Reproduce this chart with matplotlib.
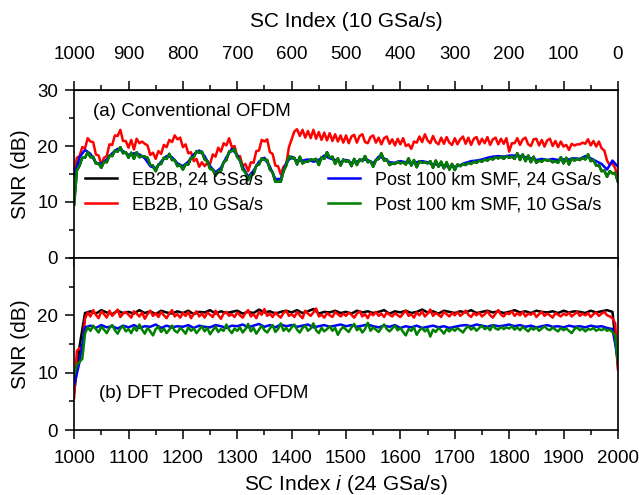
import matplotlib
matplotlib.use("Agg")
import matplotlib.pyplot as plt
import numpy as np
from matplotlib.ticker import MultipleLocator

plt.rcParams['font.family'] = ['Liberation Sans', 'DejaVu Sans']
plt.rcParams['mathtext.fontset'] = 'custom'
plt.rcParams['mathtext.it'] = 'Liberation Sans:italic'
plt.rcParams['mathtext.rm'] = 'Liberation Sans'

# ---- (a) conventional OFDM, SNR per subcarrier (SC 1000..2000) ----
# red / green sampled every 5 SCs, blue every 10 SCs
red_a = [14.8, 17.9, 18.2, 19.8, 19.6, 21.4, 20.8, 20.7, 18.5, 18.3, 16.7, 17.9, 18.2, 20.3, 20.2, 21.9, 21.8, 22.9, 20.9, 20.9,
         19.7, 21.1, 19.4, 21.3, 20.5, 20.8, 20.4, 20.1, 18.4, 18.8, 17.7, 19.1, 18.6, 20.2, 19.8, 21.1, 20.7, 21.9, 21.2, 21.5,
         19.8, 20.3, 18.7, 18.9, 17.3, 17.7, 16.3, 17.1, 16.4, 17.0, 16.8, 18.5, 18.1, 19.7, 19.0, 20.5, 20.1, 21.4, 19.8, 20.0,
         18.1, 18.2, 16.4, 16.8, 15.5, 17.1, 17.0, 19.1, 19.2, 21.1, 20.8, 21.2, 18.9, 18.6, 16.5, 16.4, 14.9, 16.3, 16.7, 19.8,
         21.2, 22.6, 23.0, 21.8, 22.9, 21.5, 22.7, 21.4, 22.9, 21.3, 22.5, 21.1, 22.4, 21.0, 22.3, 20.9, 22.1, 20.8, 21.9, 20.6,
         21.9, 20.5, 21.7, 22.0, 20.6, 21.8, 22.1, 20.7, 20.5, 21.6, 21.9, 20.6, 21.5, 20.3, 21.4, 21.7, 20.4, 21.2, 20.1, 21.3,
         20.3, 21.4, 20.0, 20.3, 19.5, 20.8, 20.6, 21.7, 20.7, 22.1, 21.0, 20.5, 21.8, 20.7, 20.3, 21.5, 20.4, 21.6, 20.6, 20.2,
         21.4, 20.3, 21.2, 21.7, 20.4, 21.5, 20.2, 21.3, 21.6, 20.3, 21.3, 20.5, 21.6, 20.2, 21.2, 21.5, 20.3, 21.3, 20.4, 21.4,
         19.0, 20.5, 20.5, 21.4, 20.2, 21.2, 21.5, 20.3, 20.0, 21.2, 21.3, 20.1, 21.1, 19.9, 21.0, 21.3, 20.0, 20.9, 19.8, 20.8,
         19.9, 20.2, 19.3, 20.4, 20.1, 20.3, 20.3, 20.6, 20.4, 21.2, 20.1, 20.9, 19.9, 20.8, 19.6, 19.2, 17.4, 16.6, 17.0, 16.0,
         14.5]
green_a = [9.5, 15.6, 16.5, 17.9, 17.9, 18.9, 18.0, 18.1, 16.9, 16.9, 16.1, 17.2, 17.1, 18.3, 18.2, 19.2, 19.0, 19.8, 18.7, 18.9,
           17.9, 18.8, 17.7, 18.9, 18.0, 18.2, 18.1, 17.9, 16.6, 16.5, 15.5, 16.7, 16.8, 17.9, 17.7, 18.6, 17.5, 17.5, 16.4, 16.6,
           15.8, 16.7, 16.7, 17.9, 18.0, 19.1, 18.8, 19.0, 17.6, 17.3, 15.9, 15.8, 14.7, 15.5, 15.6, 17.1, 17.5, 19.0, 19.1, 19.5,
           18.0, 17.5, 15.8, 15.3, 13.9, 14.8, 15.0, 16.5, 16.7, 17.8, 17.5, 17.5, 15.8, 15.3, 13.6, 13.7, 13.6, 15.5, 16.5, 18.2,
           17.8, 17.9, 16.7, 18.1, 16.9, 17.2, 17.2, 17.6, 17.5, 17.7, 16.6, 18.0, 17.7, 18.9, 17.9, 18.1, 16.8, 17.8, 16.5, 17.6,
           17.2, 17.4, 16.4, 17.7, 16.6, 17.6, 17.3, 18.2, 17.1, 17.3, 16.3, 17.5, 17.7, 18.7, 17.4, 17.6, 16.6, 16.9, 16.8, 17.2,
           16.9, 17.1, 16.7, 17.8, 16.5, 17.5, 16.2, 17.3, 17.0, 17.1, 16.9, 17.3, 16.1, 17.4, 16.3, 17.2, 16.0, 17.1, 15.8, 16.8,
           15.7, 16.7, 16.4, 16.8, 16.6, 17.0, 16.8, 17.2, 17.0, 17.4, 17.2, 17.6, 17.4, 17.8, 17.6, 18.0, 17.8, 18.1, 17.7, 18.2,
           17.9, 18.1, 17.7, 18.7, 17.5, 18.5, 17.3, 18.3, 17.1, 18.1, 17.0, 17.4, 17.2, 17.6, 17.4, 17.5, 17.1, 17.3, 17.0, 18.0,
           16.9, 17.9, 16.7, 17.8, 17.4, 17.7, 17.5, 17.9, 17.6, 18.5, 17.3, 17.5, 16.5, 16.6, 15.5, 15.6, 14.5, 15.5, 15.1, 15.2,
           13.6]
blue_a = [14.5, 18.0, 19.3, 18.6, 17.0, 16.8, 17.6, 18.7, 19.5, 19.1,
          18.4, 18.7, 18.5, 17.8, 16.4, 16.0, 17.2, 18.2, 18.0, 16.9,
          16.4, 17.2, 18.5, 19.2, 18.2, 16.4, 15.3, 16.1, 18.0, 19.5,
          18.4, 16.3, 14.5, 15.6, 17.2, 17.9, 16.3, 14.1, 14.1, 17.0,
          18.1, 17.3, 17.4, 17.6, 17.2, 17.5, 18.3, 17.8, 17.5, 17.1,
          17.5, 17.0, 17.2, 17.6, 17.5, 16.9, 18.1, 17.8, 17.1, 17.0,
          17.3, 17.1, 17.0, 17.1, 17.3, 17.1, 16.7, 16.7, 16.5, 16.3,
          16.3, 16.6, 17.0, 17.3, 17.4, 17.6, 17.9, 18.1, 18.2, 18.1,
          18.3, 18.3, 18.2, 18.0, 17.8, 17.5, 17.7, 17.5, 17.7, 17.5,
          17.6, 17.6, 17.8, 17.7, 18.2, 17.8, 17.3, 16.8, 15.8, 17.4,
          16.3]
# the EB2B 24 GSa/s trace of (a) is not visible: it lies under the green one
black_a = green_a

# ---- (b) DFT precoded OFDM ----
red_b = [5.6, 13.8, 14.3, 13.6, 19.4, 20.5, 19.8, 20.9, 20.1, 19.5, 20.7, 20.2, 19.6, 20.8, 19.9, 20.4, 21.0, 19.7, 20.3, 20.6,
         20.1, 19.6, 20.7, 20.3, 19.8, 20.5, 19.4, 20.2, 20.8, 19.9, 20.4, 19.7, 20.6, 20.0, 19.5, 20.3, 20.9, 19.8, 20.2, 19.6,
         20.4, 19.9, 20.6, 19.5, 20.2, 20.7, 19.8, 20.3, 19.6, 20.5, 20.1, 19.7, 20.8, 20.0, 19.4, 20.3, 20.6, 19.9, 20.2, 19.7,
         20.5, 20.0, 19.6, 20.4, 20.9, 19.8, 20.2, 19.5, 20.6, 20.1, 21.1, 19.9, 20.3, 19.7, 20.5, 20.0, 19.6, 20.4, 20.8, 19.9,
         20.2, 19.7, 20.6, 20.0, 19.5, 20.8, 20.3, 19.9, 20.5, 21.2, 19.8, 20.1, 19.6, 20.4, 20.0, 19.7, 20.6, 20.2, 19.8, 20.3,
         19.9, 20.5, 20.1, 19.6, 20.3, 20.7, 19.8, 20.2, 19.5, 20.4, 20.0, 20.6, 19.9, 20.3, 19.7, 20.5, 20.1, 19.8, 20.4, 20.0,
         19.7, 20.3, 20.8, 19.9, 20.2, 19.6, 20.5, 20.0, 20.7, 19.8, 20.3, 21.0, 19.9, 20.4, 20.1, 19.7, 20.6, 20.2, 19.8, 20.4,
         20.0, 20.6, 19.9, 20.3, 20.8, 20.1, 19.7, 20.4, 20.0, 20.5, 19.8, 20.2, 20.7, 20.0, 19.6, 20.3, 20.9, 20.1, 19.8, 20.4,
         20.2, 20.7, 19.9, 20.4, 20.0, 20.6, 19.8, 20.3, 20.1, 20.5, 19.7, 20.2, 20.6, 19.9, 20.3, 20.0, 19.6, 20.4, 20.1, 19.8,
         20.3, 20.0, 20.5, 19.8, 20.2, 20.6, 19.9, 20.3, 20.0, 20.4, 19.7, 20.2, 20.5, 19.9, 20.3, 20.6, 20.0, 19.8, 19.5, 18.6,
         10.6]
green_b = [9.6, 11.3, 11.9, 12.4, 16.8, 17.9, 17.3, 18.2, 17.6, 17.0, 18.0, 17.5, 16.9, 17.8, 18.3, 17.4, 16.8, 17.7, 18.1, 17.2,
           17.6, 16.9, 17.9, 17.3, 18.4, 17.5, 16.8, 17.8, 17.2, 16.5, 17.6, 18.0, 17.1, 17.7, 16.9, 17.5, 18.2, 17.3, 17.0, 17.8,
           17.4, 16.8, 17.9, 17.3, 17.7, 16.9, 17.5, 18.1, 17.2, 17.8, 16.7, 17.4, 18.0, 17.1, 17.6, 17.3, 18.4, 17.5, 16.9, 17.7,
           17.3, 17.9, 17.0, 17.6, 18.5, 17.2, 17.8, 16.8, 17.5, 18.2, 17.4, 17.0, 17.7, 18.3, 17.1, 17.6, 18.6, 17.3, 17.8, 17.2,
           17.9, 18.4, 17.5, 17.0, 17.8, 18.2, 17.3, 17.7, 18.6, 17.4, 16.9, 17.8, 17.2, 17.6, 18.1, 17.3, 17.8, 16.6, 17.5, 18.0,
           17.5, 17.1, 17.9, 18.5, 17.4, 17.8, 17.0, 17.6, 18.7, 17.3, 17.9, 17.5, 17.1, 17.8, 18.4, 17.6, 17.2, 17.7, 18.2, 17.4,
           17.8, 17.1, 16.5, 17.6, 17.3, 17.9, 16.6, 17.4, 17.8, 17.2, 17.6, 16.3, 17.5, 17.1, 17.8, 17.4, 16.8, 17.6, 17.2, 17.7,
           17.3, 17.8, 17.4, 17.0, 17.7, 18.1, 17.5, 17.9, 17.3, 17.8, 18.2, 17.6, 17.9, 17.4, 18.3, 17.7, 17.5, 18.0, 17.6, 17.9,
           17.7, 18.1, 17.5, 17.9, 17.4, 18.0, 17.6, 17.2, 17.8, 17.5, 17.9, 17.3, 17.7, 18.1, 17.6, 17.4, 17.9, 17.5, 17.2, 17.8,
           17.4, 17.7, 17.3, 16.9, 17.6, 17.9, 17.4, 17.7, 17.2, 17.6, 17.5, 17.8, 17.3, 17.6, 17.4, 17.7, 17.3, 17.5, 17.1, 16.4,
           11.8]
blue_b = [7.8, 11.9, 17.9, 18.2, 17.8, 18.3, 17.9, 18.1, 17.7, 18.2,
          17.9, 18.3, 17.8, 18.1, 18.0, 18.4, 17.8, 18.2, 17.9, 18.1,
          18.0, 18.3, 17.8, 18.2, 18.0, 17.9, 18.3, 18.1, 17.8, 18.2,
          18.1, 18.4, 17.9, 18.2, 18.5, 18.0, 18.3, 17.9, 18.4, 18.1,
          18.3, 18.0, 18.2, 18.4, 17.9, 18.1, 18.3, 18.0, 18.2, 18.4,
          18.1, 18.3, 18.0, 18.2, 18.4, 18.1, 17.9, 18.2, 18.0, 18.3,
          17.8, 18.1, 17.9, 18.2, 17.8, 18.0, 18.2, 17.9, 18.1, 17.8,
          18.0, 18.2, 18.3, 18.1, 18.4, 18.2, 18.0, 18.3, 18.1, 18.2,
          18.4, 18.1, 18.3, 18.0, 18.2, 17.9, 18.1, 18.3, 18.0, 18.1,
          17.9, 18.2, 18.0, 18.1, 17.9, 18.2, 18.0, 18.1, 17.8, 17.6,
          12.5]
black_b = [6.5, 14.6, 20.4, 20.7, 20.3, 20.9, 20.5, 20.2, 20.8, 20.4,
           20.6, 20.3, 20.9, 20.4, 20.7, 20.2, 20.8, 20.5, 20.3, 20.7,
           20.4, 20.8, 20.2, 20.6, 20.5, 20.9, 20.3, 20.7, 20.4, 20.6,
           20.8, 20.3, 20.6, 20.4, 21.0, 20.5, 20.7, 20.3, 20.6, 20.8,
           20.5, 20.9, 20.4, 20.7, 21.1, 20.3, 20.6, 20.5, 20.8, 20.4,
           20.6, 20.3, 20.8, 20.5, 20.7, 20.4, 20.6, 20.9, 20.3, 20.7,
           20.5, 20.8, 20.4, 20.6, 21.0, 20.5, 20.7, 20.3, 20.8, 20.6,
           20.4, 20.7, 20.5, 20.9, 20.4, 20.6, 20.8, 20.5, 20.7, 20.4,
           20.6, 20.9, 20.5, 20.7, 20.4, 20.8, 20.6, 20.5, 20.7, 20.4,
           20.8, 20.5, 20.7, 20.6, 20.4, 20.8, 20.5, 20.7, 20.9, 20.6,
           11.2]

labels = ["EB2B, 24 GSa/s", "EB2B, 10 GSa/s", "Post 100 km SMF, 24 GSa/s", "Post 100 km SMF, 10 GSa/s"]
colors = ["black", "#ff0000", "#0000ff", "#008000"]
top_ticks = [1000, 900, 800, 700, 600, 500, 400, 300, 200, 100, 0]


def sc_axis(values):
    return np.linspace(1000, 2000, len(values))


def style_axes(ax):
    ax.set_xlim(1000, 2000)
    ax.set_ylim(0, 30)
    ax.xaxis.set_major_locator(MultipleLocator(100))
    ax.xaxis.set_minor_locator(MultipleLocator(50))
    ax.yaxis.set_major_locator(MultipleLocator(10))
    ax.yaxis.set_minor_locator(MultipleLocator(5))
    ax.tick_params(which='both', direction='out', width=1.1, labelsize=13.5, top=False, right=False)
    ax.tick_params(which='major', length=6.5)
    ax.tick_params(which='minor', length=3.5)
    ax.tick_params(axis='y', pad=5)
    ax.tick_params(axis='x', pad=8)
    for sp in ax.spines.values():
        sp.set_linewidth(1.2)
    ax.set_ylabel("SNR (dB)", fontsize=15, labelpad=5)


fig = plt.figure(figsize=(6.39, 4.95), dpi=100)
ax1 = fig.add_axes([0.116, 0.479, 0.851, 0.339])
ax2 = fig.add_axes([0.116, 0.131, 0.851, 0.348])

series_a = [black_a, red_a, blue_a, green_a]
series_b = [black_b, red_b, blue_b, green_b]
for vals, c, lab in zip(series_a, colors, labels):
    ax1.plot(sc_axis(vals), vals, color=c, lw=1.8, label=lab)
for vals, c in zip(series_b, colors):
    ax2.plot(sc_axis(vals), vals, color=c, lw=1.8)

style_axes(ax1)
style_axes(ax2)
ax1.tick_params(axis='x', labelbottom=False)
ax2.set_yticks([0, 10, 20])
ax2.set_xlabel("SC Index $i$ (24 GSa/s)", fontsize=15, labelpad=4)

# top axis: SC index at 10 GSa/s
sec = ax1.secondary_xaxis('top', functions=(lambda x: 2000 - x, lambda x: 2000 - x))
sec.set_xticks(top_ticks)
sec.xaxis.set_minor_locator(MultipleLocator(50))
sec.tick_params(which='both', direction='out', width=1.1, labelsize=13.5, pad=13)
sec.tick_params(which='major', length=6.5)
sec.tick_params(which='minor', length=3.5)
sec.set_xlabel("SC Index (10 GSa/s)", fontsize=15, labelpad=14)

ax1.text(0.035, 0.87, "(a) Conventional OFDM", transform=ax1.transAxes, fontsize=13.5, va='center')
ax2.text(0.045, 0.215, "(b) DFT Precoded OFDM", transform=ax2.transAxes, fontsize=13.5, va='center')

ax1.legend(loc='lower left', bbox_to_anchor=(0.0, 0.2), ncol=2, frameon=False, fontsize=13,
           handlelength=1.8, columnspacing=3.6, labelspacing=0.45, borderaxespad=0.2)

fig.savefig("out.png", dpi=100)
